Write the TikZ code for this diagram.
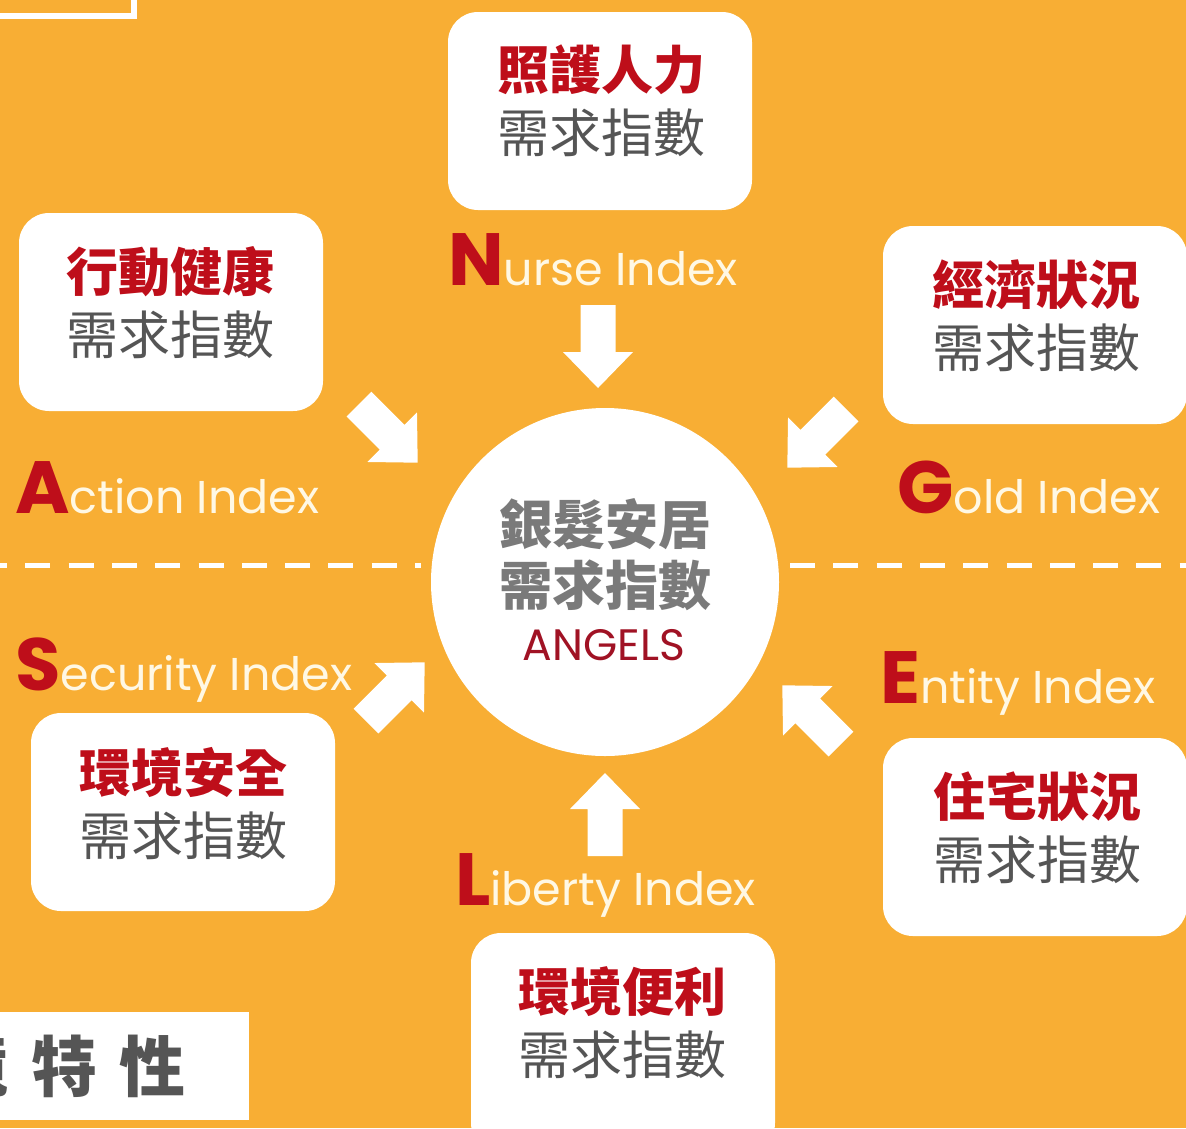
\documentclass[tikz,border=0pt]{standalone}
\usepackage{fontspec}
\setmainfont{Poppins}
\newfontfamily\cjk{Noto Sans CJK TC}
\definecolor{bgor}{RGB}{248,174,52}
\definecolor{cred}{RGB}{190,14,26}
\definecolor{cgray}{RGB}{85,85,85}
\definecolor{ccream}{RGB}{255,248,228}
\definecolor{cmid}{RGB}{122,122,122}
\definecolor{cang}{RGB}{160,18,36}
\tikzset{
  box/.style={fill=white, rounded corners=30pt, minimum width=304pt, minimum height=198pt, inner sep=0pt},
  boxtext/.style={align=center, inner sep=0pt, font=\cjk\fontsize{52}{63}\selectfont},
  lab/.style={anchor=base west, inner sep=0pt, text=ccream, font=\fontsize{46}{46}\selectfont},
  dashline/.style={white, line width=5pt, dash pattern=on 25pt off 18.3pt},
  blockarr/.pic={\fill[white] (0,-17.5) -- (47,-17.5) -- (47,-35) -- (83,0) -- (47,35) -- (47,17.5) -- (0,17.5) -- cycle;}
}
\newcommand\capl[1]{{\bfseries\color{cred}\fontsize{74}{74}\selectfont #1}}
\newcommand\redl[1]{{\bfseries\color{cred}#1}}
\newcommand\grayl[1]{{\color{cgray}#1}}
\begin{document}
\begin{tikzpicture}[x=1pt,y=-1pt]
\useasboundingbox (0,0) rectangle (1186,1128);
\clip (0,0) rectangle (1186,1128);
\fill[bgor] (0,0) rectangle (1186,1128);
% top-left frame
\draw[white, line width=6pt] (-20,-20) rectangle (134,16);
% dashed divider
\draw[dashline] (-18,565) -- (421,565);
\draw[dashline] (790,565) -- (1200,565);
% centre circle
\node[circle, fill=white, minimum size=348pt, inner sep=0pt] (hub) at (605,582) {};
\node[inner sep=0pt, text=cmid, font=\cjk\bfseries\fontsize{53}{53}\selectfont] (hubA) at (605,524) {銀髮安居};
\node[inner sep=0pt, text=cmid, font=\cjk\bfseries\fontsize{53}{53}\selectfont] (hubB) at (605,585) {需求指數};
\node[inner sep=0pt, text=cang, font=\fontsize{44}{44}\selectfont] (hubC) at (604,645) {ANGELS};
% boxes
\node[box] (nbox) at (600,111) {};
\node[boxtext] (ntext) at (601,101) {\redl{照護人力}\\\grayl{需求指數}};
\node[box] (abox) at (171,312) {};
\node[boxtext] (atext) at (170,303) {\redl{行動健康}\\\grayl{需求指數}};
\node[box] (gbox) at (1035,325) {};
\node[boxtext] (gtext) at (1036,316) {\redl{經濟狀況}\\\grayl{需求指數}};
\node[box] (sbox) at (183,812) {};
\node[boxtext] (stext) at (183,804) {\redl{環境安全}\\\grayl{需求指數}};
\node[box] (ebox) at (1035,837) {};
\node[boxtext] (etext) at (1037,828) {\redl{住宅狀況}\\\grayl{需求指數}};
\node[box, minimum height=220pt] (lbox) at (623,1043) {};
\node[boxtext] (ltext) at (622,1023) {\redl{環境便利}\\\grayl{需求指數}};
% labels
\node[lab] (nlab) at (448,285) {\capl{N}urse Index};
\node[lab] (alab) at (15,513) {\capl{A}ction Index};
\node[lab] (glab) at (897,513) {\capl{G}old Index};
\node[lab] (slab) at (15,690) {\capl{S}ecurity Index};
\node[lab] (elab) at (880,703) {\capl{E}ntity Index};
\node[lab] (llab) at (455,905) {\capl{L}iberty Index};
% block arrows toward the hub
\coordinate (nt) at (598,305);
\coordinate (at) at (359,404);
\coordinate (gt) at (846,409);
\coordinate (st) at (366,721);
\coordinate (et) at (841,744);
\coordinate (lt) at (605,856);
\pic[rotate=-90] at (nt) {blockarr};
\pic[rotate=-45] at (at) {blockarr};
\pic[rotate=-135] at (gt) {blockarr};
\pic[rotate=45] at (st) {blockarr};
\pic[rotate=135] at (et) {blockarr};
\pic[rotate=90] at (lt) {blockarr};
% bottom-left caption box
\fill[white] (-5,1012) rectangle (249,1120);
\begin{scope}
\clip (0,1012) rectangle (249,1120);
\node[anchor=east, inner sep=0pt, text=cgray, font=\cjk\bfseries\fontsize{66}{66}\selectfont] (cap) at (186,1066) {境\hspace{22pt}特\hspace{22pt}性};
\end{scope}
\end{tikzpicture}
\end{document}
